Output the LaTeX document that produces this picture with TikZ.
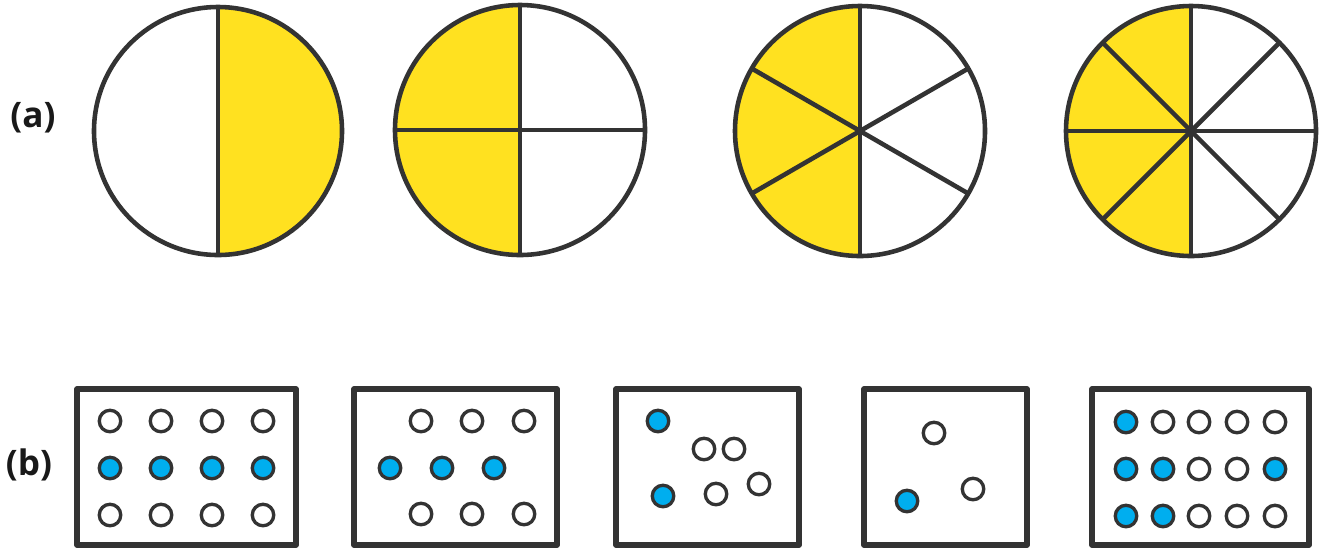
\documentclass[tikz,border=0pt]{standalone}
\usepackage{fontspec}
\setmainfont{Open Sans}
\usetikzlibrary{positioning}
\definecolor{pieyellow}{HTML}{FFE120}
\definecolor{dotblue}{HTML}{00AEEF}
\definecolor{inkgray}{HTML}{333333}

\begin{document}
\begin{tikzpicture}[line join=round,
  rim/.style={draw=inkgray, line width=1.3pt},
  frame/.style={draw=inkgray, line width=1.55pt},
  dot/.style={circle, draw=inkgray, line width=0.95pt, minimum size=0.215cm, inner sep=0pt, fill=white},
  bdot/.style={dot, fill=dotblue},
  tag/.style={font=\bfseries\fontsize{10}{12}\selectfont, text=black!90, inner sep=0pt}]
\useasboundingbox (0,0) rectangle (13.22,-5.48);

% (a) fraction circles
\node (la) [tag] at (0.33,-1.18) {(a)};

\begin{scope}[shift={(2.18,-1.31)}]
  \fill[pieyellow] (0,0) -- (90:1.24) arc[start angle=90, end angle=-90, radius=1.24] -- cycle;
  \draw[rim] (0,0) circle (1.24);
  \draw[rim] (90:1.24) -- (270:1.24);
\end{scope}

\begin{scope}[shift={(5.20,-1.30)}]
  \fill[pieyellow] (0,0) -- (90:1.25) arc[start angle=90, end angle=270, radius=1.25] -- cycle;
  \draw[rim] (0,0) circle (1.25);
  \foreach \a in {0,90,180,270} \draw[rim] (0,0) -- (\a:1.25);
\end{scope}

\begin{scope}[shift={(8.60,-1.31)}]
  \fill[pieyellow] (0,0) -- (90:1.25) arc[start angle=90, end angle=270, radius=1.25] -- cycle;
  \draw[rim] (0,0) circle (1.25);
  \foreach \a in {30,90,...,330} \draw[rim] (0,0) -- (\a:1.25);
\end{scope}

\begin{scope}[shift={(11.91,-1.31)}]
  \fill[pieyellow] (0,0) -- (90:1.25) arc[start angle=90, end angle=270, radius=1.25] -- cycle;
  \draw[rim] (0,0) circle (1.25);
  \foreach \a in {0,45,...,315} \draw[rim] (0,0) -- (\a:1.25);
\end{scope}

% (b) dot boxes
\node (lb) [tag] at (0.29,-4.65) {(b)};

\draw[frame] (0.77,-3.89) rectangle (2.96,-5.45);
\foreach \n/\x/\y/\s in {1/1.10/-4.21/dot, 2/1.61/-4.21/dot, 3/2.12/-4.21/dot, 4/2.63/-4.21/dot,
    5/1.10/-4.68/bdot, 6/1.61/-4.68/bdot, 7/2.12/-4.68/bdot, 8/2.63/-4.68/bdot,
    9/1.10/-5.15/dot, 10/1.61/-5.15/dot, 11/2.12/-5.15/dot, 12/2.63/-5.15/dot}
  \node (a\n) [\s] at (\x,\y) {};

\draw[frame] (3.54,-3.89) rectangle (5.57,-5.45);
\foreach \n/\x/\y/\s in {1/4.21/-4.21/dot, 2/4.72/-4.21/dot, 3/5.24/-4.21/dot,
    4/3.90/-4.68/bdot, 5/4.42/-4.68/bdot, 6/4.94/-4.68/bdot,
    7/4.21/-5.14/dot, 8/4.72/-5.14/dot, 9/5.24/-5.14/dot}
  \node (b\n) [\s] at (\x,\y) {};

\draw[frame] (6.16,-3.89) rectangle (7.99,-5.45);
\foreach \n/\x/\y/\s in {1/6.58/-4.21/bdot, 2/7.04/-4.49/dot, 3/7.34/-4.49/dot,
    4/6.63/-4.96/bdot, 5/7.16/-4.94/dot, 6/7.59/-4.84/dot}
  \node (c\n) [\s] at (\x,\y) {};

\draw[frame] (8.64,-3.89) rectangle (10.27,-5.45);
\foreach \n/\x/\y/\s in {1/9.34/-4.33/dot, 2/9.73/-4.89/dot, 3/9.07/-5.01/bdot}
  \node (d\n) [\s] at (\x,\y) {};

\draw[frame] (10.92,-3.89) rectangle (13.09,-5.45);
\foreach \n/\x/\y/\s in {1/11.26/-4.22/bdot, 2/11.63/-4.22/dot, 3/11.99/-4.22/dot, 4/12.37/-4.22/dot, 5/12.75/-4.22/dot,
    6/11.26/-4.69/bdot, 7/11.63/-4.69/bdot, 8/11.99/-4.69/dot, 9/12.37/-4.69/dot, 10/12.75/-4.69/bdot,
    11/11.26/-5.16/bdot, 12/11.63/-5.16/bdot, 13/11.99/-5.16/dot, 14/12.37/-5.16/dot, 15/12.75/-5.16/dot}
  \node (e\n) [\s] at (\x,\y) {};
\end{tikzpicture}
\end{document}
